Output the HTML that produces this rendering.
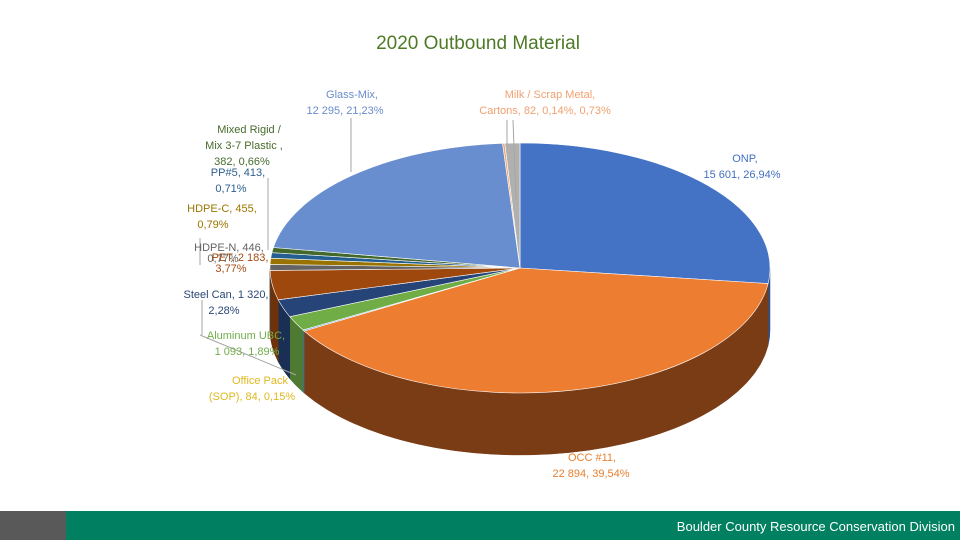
<!DOCTYPE html>
<html><head><meta charset="utf-8"><style>
body{margin:0;width:960px;height:540px;overflow:hidden;background:#fff;font-family:"Liberation Sans",sans-serif}
svg{position:absolute;left:0;top:0}
.l{font-size:11px;text-anchor:middle}
</style></head><body>
<svg id="c" width="960" height="540">
<text x="478" y="49" font-size="19" fill="#4e7a27" text-anchor="middle">2020 Outbound Material</text>
<g id="walls"></g><g id="tops"></g>
<g id="lines" stroke="#a6a6a6" stroke-width="1" fill="none">
<line x1="351" y1="118" x2="351" y2="172"/><line x1="507" y1="120" x2="507" y2="145"/><line x1="513" y1="120" x2="516" y2="200"/>
<line x1="268" y1="178" x2="268" y2="250"/><line x1="200" y1="238" x2="200" y2="265"/><line x1="202" y1="300" x2="202" y2="335"/><line x1="200" y1="335" x2="296" y2="375"/>
</g>
<g id="labels">
<text class="l" fill="#6a8ccb" x="352" y="98"><tspan x="352">Glass-Mix,</tspan><tspan x="345" dy="16">12 295, 21,23%</tspan></text>
<text class="l" fill="#f0a070" x="550" y="98"><tspan x="550">Milk / Scrap Metal,</tspan><tspan x="545" dy="16">Cartons, 82, 0,14%, 0,73%</tspan></text>
<text class="l" fill="#476b2d" x="249" y="133"><tspan x="249">Mixed Rigid /</tspan><tspan x="244" dy="16">Mix 3-7 Plastic ,</tspan><tspan x="242" dy="16">382, 0,66%</tspan></text>
<text class="l" fill="#2d5f8e" x="238" y="176"><tspan x="238">PP#5, 413,</tspan><tspan x="231" dy="16">0,71%</tspan></text>
<text class="l" fill="#9a7600" x="222" y="212"><tspan x="222">HDPE-C, 455,</tspan><tspan x="213" dy="16">0,79%</tspan></text>
<text class="l" fill="#646464" x="229" y="251"><tspan x="229">HDPE-N, 446,</tspan><tspan x="223" dy="11">0,77%</tspan></text>
<text class="l" fill="#a24b14" x="240" y="261"><tspan x="240">PET, 2 183,</tspan><tspan x="231" dy="11">3,77%</tspan></text>
<text class="l" fill="#2a4776" x="226" y="298"><tspan x="226">Steel Can, 1 320,</tspan><tspan x="224" dy="16">2,28%</tspan></text>
<text class="l" fill="#72ad4b" x="246" y="339"><tspan x="246">Aluminum UBC,</tspan><tspan x="247" dy="16">1 093, 1,89%</tspan></text>
<text class="l" fill="#e0b820" x="258" y="384"><tspan x="260">Office Pack</tspan><tspan x="252" dy="16">(SOP), 84, 0,15%</tspan></text>
<text class="l" fill="#4270c2" x="745" y="162"><tspan x="745">ONP,</tspan><tspan x="742" dy="16">15 601, 26,94%</tspan></text>
<text class="l" fill="#e8802f" x="592" y="461"><tspan x="592">OCC #11,</tspan><tspan x="591" dy="16">22 894, 39,54%</tspan></text>
</g>
<rect x="0" y="511" width="66" height="29" fill="#595959"/>
<rect x="66" y="511" width="894" height="29" fill="#008060"/>
<text x="955" y="531" font-size="13" fill="#fff" text-anchor="end">Boulder County Resource Conservation Division</text>
</svg>
<script>
const categories=["ONP","OCC #11","Office Pack (SOP)","Aluminum UBC","Steel Can","PET","HDPE-N","HDPE-C","PP#5","Mixed Rigid","Glass-Mix","Milk Cartons","Scrap Metal"];
const values=[15601,22894,84,1093,1320,2183,446,455,413,382,12295,82,560];
const topColors=["#4472c4","#ed7d31","#5b9bd5","#70ad47","#264478","#9e480e","#636363","#997300","#255e91","#43682b","#698ed0","#f4a66f","#b0b0b0"];
const sideColors=["#2f4f8a","#7a3c15","#3e6e97","#4e7a31","#1a2f54","#6e320a","#454545","#6b5000","#1a4266","#2f4a1e","#4a6392","#aa7450","#7b7b7b"];
const cx=520,cy=268,rx=250,ry=125,depth=62;
const total=values.reduce((a,b)=>a+b,0);
const NS="http://www.w3.org/2000/svg";
function pt(a,dy){const r=a*Math.PI/180;return [cx+rx*Math.cos(r),cy+ry*Math.sin(r)+(dy||0)];}
const walls=document.getElementById('walls'),tops=document.getElementById('tops');
let a=-90;
values.forEach((v,i)=>{
  const sweep=v/total*360,a1=a,a2=a+sweep;a=a2;
  const w1=Math.max(a1,0),w2=Math.min(a2,180);
  if(w2>w1){
    const p1=pt(w1),p2=pt(w2),b2=pt(w2,depth),b1=pt(w1,depth);
    const p=document.createElementNS(NS,'path');
    p.setAttribute('d',`M${p1}A${rx},${ry} 0 0 1 ${p2}L${b2}A${rx},${ry} 0 0 0 ${b1}Z`);
    p.setAttribute('fill',sideColors[i]);p.setAttribute('stroke',sideColors[i]);p.setAttribute('stroke-width','0.5');
    
    
    walls.appendChild(p);
  }
  const s=pt(a1),e=pt(a2),large=sweep>180?1:0;
  const t=document.createElementNS(NS,'path');
  t.setAttribute('d',`M${cx},${cy}L${s}A${rx},${ry} 0 ${large} 1 ${e}Z`);
  t.setAttribute('fill',topColors[i]);t.setAttribute('stroke','#fff');t.setAttribute('stroke-width','0.6');
  
  
  tops.appendChild(t);
});
</script>
</body></html>
